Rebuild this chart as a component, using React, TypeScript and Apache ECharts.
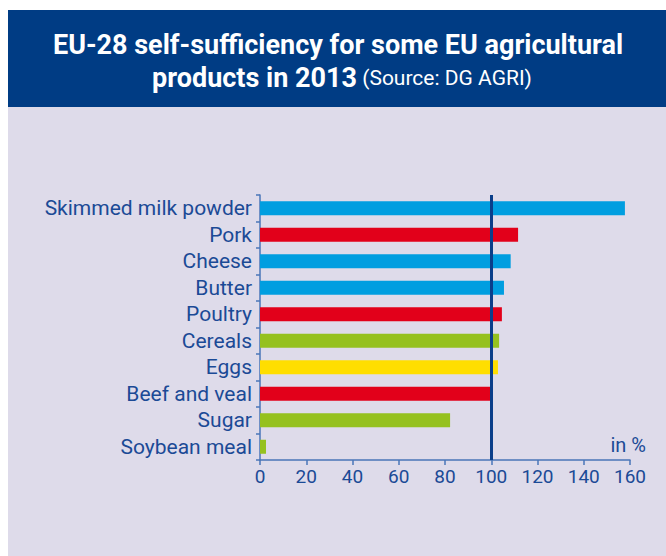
import React, { useEffect, useRef } from "react";
import * as echarts from "echarts";

const categories = [
  "Skimmed milk powder",
  "Pork",
  "Cheese",
  "Butter",
  "Poultry",
  "Cereals",
  "Eggs",
  "Beef and veal",
  "Sugar",
  "Soybean meal",
];
const values = [157.8, 111.6, 108.4, 105.5, 104.6, 103.4, 102.9, 99.5, 82.2, 2.6];
const barColors = [
  "#009ee0",
  "#e2001a",
  "#009ee0",
  "#009ee0",
  "#e2001a",
  "#95c11f",
  "#ffde00",
  "#e2001a",
  "#95c11f",
  "#95c11f",
];
const xTicks = { min: 0, max: 160, interval: 20 };
const referenceLine = 100;
const titleLine1 = "EU-28 self-sufficiency for some EU agricultural";
const titleLine2Bold = "products in 2013";
const titleLine2Normal = " (Source: DG AGRI)";
const unitLabel = "in %";

const FONT = "Roboto, 'Noto Sans', sans-serif";
const TEXT_BLUE = "#1b4a96";

export default function App() {
  const ref = useRef<HTMLDivElement>(null);
  useEffect(() => {
    if (!ref.current) return;
    const chart = echarts.init(ref.current, undefined, { renderer: "svg" });
    chart.setOption({
      animation: false,
      backgroundColor: "#ffffff",
      textStyle: { fontFamily: FONT },
      graphic: [
        { type: "rect", z: -10, shape: { x: 8, y: 10, width: 658, height: 546 }, style: { fill: "#dedbea" } },
        { type: "rect", z: -9, shape: { x: 8, y: 10, width: 658, height: 97 }, style: { fill: "#003c84" } },
        {
          type: "text",
          x: 338,
          y: 45,
          style: {
            text: titleLine1,
            fill: "#ffffff",
            font: `bold 27px ${FONT}`,
            textAlign: "center",
            textVerticalAlign: "middle",
          },
        },
        {
          type: "text",
          x: 342,
          y: 78,
          style: {
            text: `{b|${titleLine2Bold}}{n|${titleLine2Normal}}`,
            textAlign: "center",
            textVerticalAlign: "middle",
            rich: {
              b: { fill: "#ffffff", fontFamily: FONT, fontWeight: "bold", fontSize: 27, color: "#ffffff" },
              n: { fill: "#ffffff", fontFamily: FONT, fontWeight: "normal", fontSize: 21, color: "#ffffff" },
            },
          },
        },
        {
          type: "text",
          x: 646,
          y: 445,
          style: {
            text: unitLabel,
            fill: TEXT_BLUE,
            font: `20px ${FONT}`,
            textAlign: "right",
            textVerticalAlign: "middle",
          },
        },
      ],
      grid: { left: 260, right: 36, top: 195, bottom: 96, containLabel: false },
      xAxis: {
        type: "value",
        min: xTicks.min,
        max: xTicks.max,
        interval: xTicks.interval,
        splitLine: { show: false },
        axisLine: { show: true, lineStyle: { color: "#4a76b8", width: 1.5 } },
        axisTick: { show: true, length: 5, lineStyle: { color: "#4a76b8", width: 1.5 } },
        axisLabel: { color: TEXT_BLUE, fontSize: 19, fontFamily: FONT, margin: 7 },
      },
      yAxis: {
        type: "category",
        data: categories,
        inverse: true,
        axisLine: { show: true, lineStyle: { color: "#4a76b8", width: 1.5 } },
        axisTick: { show: true, interval: 0, length: 4, lineStyle: { color: "#4a76b8", width: 1.5 } },
        axisLabel: { color: TEXT_BLUE, fontSize: 21, fontFamily: FONT, margin: 8, interval: 0 },
      },
      series: [
        {
          type: "bar",
          barWidth: 14,
          data: values.map((v, i) => ({ value: v, itemStyle: { color: barColors[i] } })),
          markLine: {
            silent: true,
            symbol: ["none", "none"],
            label: { show: false },
            lineStyle: { color: "#0a3e8a", width: 3, type: "solid" },
            data: [{ xAxis: referenceLine }],
          },
        },
      ],
    });
    return () => chart.dispose();
  }, []);
  return (
    <div
      ref={ref}
      style={{ position: "absolute", left: 0, top: 0, width: 666, height: 556 }}
    />
  );
}
